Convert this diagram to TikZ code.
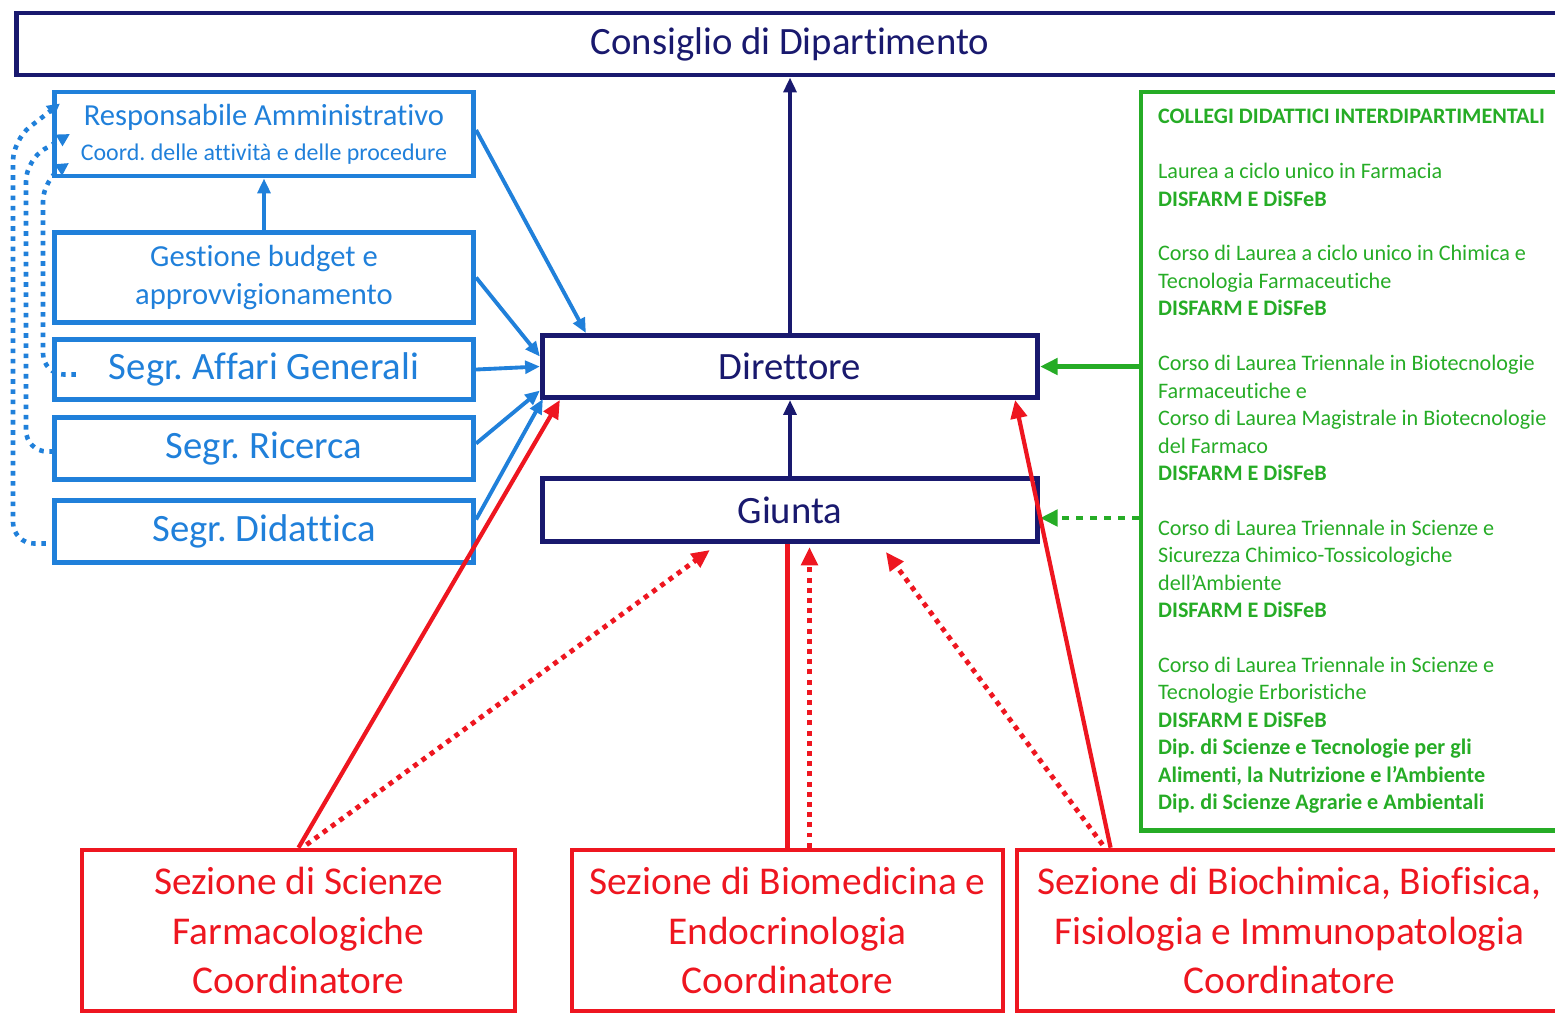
\documentclass[tikz,border=0pt]{standalone}
\usepackage{fontspec}
\setmainfont[Ligatures = NoCommon]{Carlito}
\usetikzlibrary{arrows.meta,calc}

\definecolor{navy}{RGB}{25,25,110}
\definecolor{azure}{RGB}{32,128,218}
\definecolor{grn}{RGB}{38,172,38}
\definecolor{rd}{RGB}{238,22,32}

\frenchspacing

\tikzset{
	navybox/.style = {draw = navy, line width = 1.4pt, text = navy, font = \fontsize{11}{13}\selectfont},
	bluebox/.style = {draw = azure, line width = 1.4pt, text = azure, align = center, minimum width = 4.19cm},
	redbox/.style = {draw = rd, line width = 1.3pt, text = rd, align = center, minimum height = 1.61cm, font = \fontsize{11.2}{14.2}\selectfont},
	navarr/.style = {->, navy, line width = 1.1pt, >={Triangle[length = 4.2pt, width = 3.6pt]}},
	bluearr/.style = {->, azure, line width = 1.1pt, >={Triangle[length = 4.2pt, width = 3.6pt]}},
	bluedots/.style = {->, azure, line width = 1.3pt, dash pattern = on 1.3pt off 1.6pt, rounded corners = 6pt, >={Triangle[length = 3.6pt, width = 3.6pt]}},
	redarr/.style = {->, rd, line width = 1.2pt, >={Triangle[length = 5.2pt, width = 4.6pt]}},
	reddots/.style = {->, rd, line width = 1.4pt, dash pattern = on 1.4pt off 1.5pt, >={Triangle[length = 5.2pt, width = 4.6pt]}},
	grnarr/.style = {->, grn, line width = 1.3pt, >={Triangle[length = 5pt, width = 4.6pt]}}
}

\begin{document}
\begin{tikzpicture}[x = 0.01cm, y = -0.01cm]
	%	frame
	\useasboundingbox (0, 0) rectangle (1555, 1014);
	
	%	top
	\node[navybox, minimum width = 15.46cm, minimum height = 0.62cm] (cons) at (790, 44) {Consiglio di Dipartimento};
	
	%	administration
	\node[bluebox, minimum height = 0.84cm, font = \fontsize{8.7}{9.9}\selectfont] (resp) at (264, 134) {Responsabile Amministrativo\\{\fontsize{6.8}{8}\selectfont Coord. delle attività e delle procedure}};
	\node[bluebox, minimum height = 0.90cm, font = \fontsize{8.7}{10.8}\selectfont] (gest) at (264, 277.5) {Gestione budget e\\approvvigionamento};
	\node[bluebox, minimum height = 0.60cm, font = \fontsize{11}{13}\selectfont] (aff) at (264, 369.5) {Segr. Affari Generali};
	\node[bluebox, minimum height = 0.62cm, font = \fontsize{11}{13}\selectfont] (ric) at (264, 448.5) {Segr. Ricerca};
	\node[bluebox, minimum height = 0.62cm, font = \fontsize{11}{13}\selectfont] (did) at (264, 531.5) {Segr. Didattica};
	
	%	direction
	\node[navybox, minimum width = 4.95cm, minimum height = 0.62cm] (dir) at (790, 366.5) {Direttore};
	\node[navybox, minimum width = 4.95cm, minimum height = 0.63cm] (giunta) at (790, 510) {Giunta};
	
	%	collegi
	\node[draw = grn, line width = 1.2pt, text = grn, anchor = north west, align = flush left,
		text width = 4.05cm, inner xsep = 0.17cm, minimum height = 7.38cm,
		font = \fontsize{6.3}{7.8}\selectfont] (coll) at (1139, 90) {%
		\textbf{COLLEGI DIDATTICI INTERDIPARTIMENTALI}\\[7.8pt]
		Laurea a ciclo unico in Farmacia\\
		\textbf{DISFARM E DiSFeB}\\[7.8pt]
		Corso di Laurea a ciclo unico in Chimica e\\
		Tecnologia Farmaceutiche\\
		\textbf{DISFARM E DiSFeB}\\[7.8pt]
		Corso di Laurea Triennale in Biotecnologie\\
		Farmaceutiche e\\
		Corso di Laurea Magistrale in Biotecnologie\\
		del Farmaco\\
		\textbf{DISFARM E DiSFeB}\\[7.8pt]
		Corso di Laurea Triennale in Scienze e\\
		Sicurezza Chimico-Tossicologiche\\
		dell’Ambiente\\
		\textbf{DISFARM E DiSFeB}\\[7.8pt]
		Corso di Laurea Triennale in Scienze e\\
		Tecnologie Erboristiche\\
		\textbf{DISFARM E DiSFeB}\\
		\textbf{Dip. di Scienze e Tecnologie per gli}\\
		\textbf{Alimenti, la Nutrizione e l’Ambiente}\\
		\textbf{Dip. di Scienze Agrarie e Ambientali}};
	
	%	sezioni
	\node[redbox, minimum width = 4.33cm] (sez1) at (298.5, 930.5) {Sezione di Scienze\\Farmacologiche\\Coordinatore};
	\node[redbox, minimum width = 4.31cm] (sez2) at (787.5, 930.5) {Sezione di Biomedicina e\\Endocrinologia\\Coordinatore};
	\node[redbox, minimum width = 5.45cm] (sez3) at (1289.5, 930.5) {Sezione di Biochimica, Biofisica,\\Fisiologia e Immunopatologia\\Coordinatore};
	
	%	navy arrows
	\draw[navarr] (dir.north) -- (cons.south);
	\draw[navarr] (giunta.north) -- (dir.south);
	
	%	blue arrows
	\draw[bluearr] (gest.north) -- (resp.south);
	\draw[bluearr] ($(resp.east) + (0, -4)$) -- ($(dir.north west) + (46, 0)$);
	\draw[bluearr] (gest.east) -- ($(dir.west) + (0, -10)$);
	\draw[bluearr] (aff.east) -- (dir.west);
	\draw[bluearr] ($(ric.east) + (0, -5)$) -- ($(dir.west) + (0, 24)$);
	\draw[bluearr] ($(did.east) + (0, -12)$) -- ($(dir.south west) + (3, -1)$);
	
	%	dotted back to the responsabile
	\draw[bluedots] ($(did.west) + (-6, 12)$) -| (13, 140) -- ($(resp.north west) + (8, 14)$);
	\draw[bluedots] ($(ric.west) + (2, 3)$) -| (26, 160) -- ($(resp.west) + (18, 0)$);
	\draw[bluedots] ($(aff.west) + (24, 5)$) -| (43, 180) -- ($(resp.west) + (17, 29)$);
	
	%	green arrows
	\draw[grnarr] (coll.west |- dir.east) -- (dir.east);
	\draw[grnarr, dash pattern = on 2pt off 2pt] ($(coll.west |- giunta.east) + (0, 8)$) -- ($(giunta.east) + (0, 8)$);
	
	%	red arrows
	\draw[redarr] (sez1.north) -- ($(dir.south west) + (20, 0)$);
	\draw[reddots] ($(sez1.north) + (8, -3)$) -- ($(giunta.south west) + (170, 6)$);
	\draw[rd, line width = 1.2pt] (sez2.north) -- (sez2.north |- giunta.south);
	\draw[reddots] ($(sez2.north) + (22, 0)$) -- ($(sez2.north |- giunta.south) + (22, 3)$);
	\draw[reddots] ($(sez3.north west) + (88, -3)$) -- ($(giunta.south west) + (346, 8)$);
	\draw[redarr] ($(sez3.north west) + (96, 0)$) -- ($(dir.south east) + (-25, 0)$);
\end{tikzpicture}
\end{document}
